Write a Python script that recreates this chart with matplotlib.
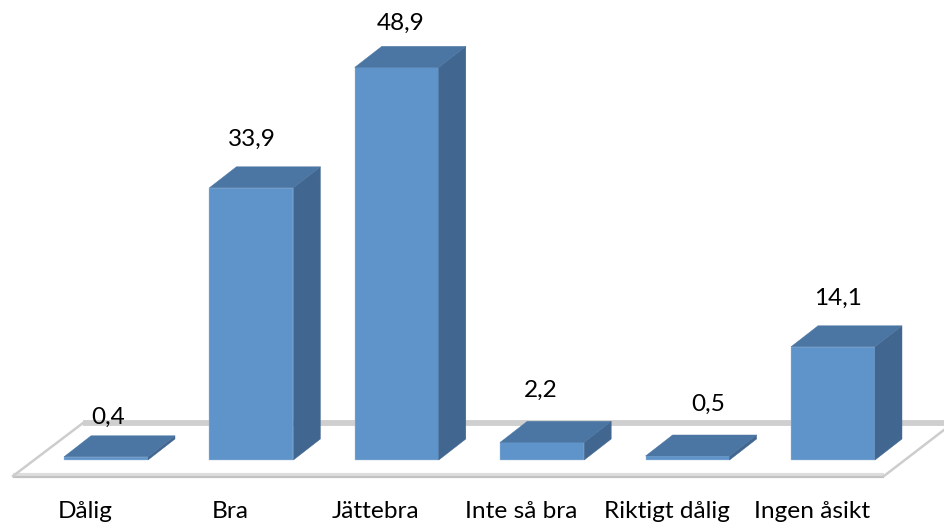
#!/usr/bin/env python3

import matplotlib
matplotlib.use('Agg')
import matplotlib.pyplot as plt
from matplotlib.patches import Polygon

categories = ['Dålig', 'Bra', 'Jättebra', 'Inte så bra', 'Riktigt dålig', 'Ingen åsikt']
values = [0.4, 33.9, 48.9, 2.2, 0.5, 14.1]
value_labels = ['0,4', '33,9', '48,9', '2,2', '0,5', '14,1']

# pixel scale of the picture
W, H = 945, 522
px_x = 145.4
px_y = 8.03
base_px = 460
first_px = 106

bar_w = 84 / px_x
depth_x = 27 / px_x
depth_y = 21 / px_y

# label nudges, in pixels from the bar centre / top of front face
label_dx = [2, 0, 4, -1, 21, 4.5]
label_dy = [39, 48, 44, 52, 52, 48]

FRONT = '#5f94ca'
TOP = '#4b75a2'
SIDE = '#41668f'
EDGE = '#a9c2dc'

plt.rcParams['font.family'] = ['Lato', 'DejaVu Sans']

fig = plt.figure(figsize=(W / 100, H / 100), dpi=100)
ax = fig.add_axes([0, 0, 1, 1])
ax.set_xlim(-first_px / px_x, (W - first_px) / px_x)
ax.set_ylim(-(H - base_px) / px_y, base_px / px_y)
ax.axis('off')

# floor
fl = -first_px / px_x
fx = lambda p: fl + p / px_x
fy = lambda p: (base_px - p) / px_y
ax.plot([fx(83), fx(960)], [fy(423), fy(423)], color='#cfcfcf', lw=4.2, zorder=1, solid_capstyle='butt')
ax.plot([fx(13), fx(884)], [fy(474.5), fy(474.5)], color='#dddddd', lw=3, zorder=1, solid_capstyle='butt')
ax.plot([fx(13), fx(884)], [fy(477), fy(477)], color='#c2c2c2', lw=1.6, zorder=1, solid_capstyle='butt')
ax.plot([fx(13), fx(83)], [fy(476), fy(423)], color='#cdcdcd', lw=1.8, zorder=1)
ax.plot([fx(884), fx(953)], [fy(476), fy(423)], color='#cdcdcd', lw=1.8, zorder=1)

# bars
ax.bar(range(len(values)), values, width=bar_w, color=FRONT, edgecolor=EDGE, linewidth=0.3, zorder=3)
for i, v in enumerate(values):
    l = i - bar_w / 2
    r = i + bar_w / 2
    ax.add_patch(Polygon([(r, 0), (r, v), (r + depth_x, v + depth_y), (r + depth_x, depth_y)],
                         facecolor=SIDE, edgecolor=SIDE, linewidth=0.3, zorder=3))
    ax.add_patch(Polygon([(l, v), (r, v), (r + depth_x, v + depth_y), (l + depth_x, v + depth_y)],
                         facecolor=TOP, edgecolor=TOP, linewidth=0.3, zorder=4))
    ax.text(i + label_dx[i] / px_x, v + label_dy[i] / px_y, value_labels[i], fontsize=17.6,
            ha='center', va='center', color='black', zorder=5)
    ax.text(i - 21 / px_x, -52 / px_y, categories[i], fontsize=17.6,
            ha='center', va='center', color='black', zorder=5)

fig.savefig('out.png', dpi=100)
